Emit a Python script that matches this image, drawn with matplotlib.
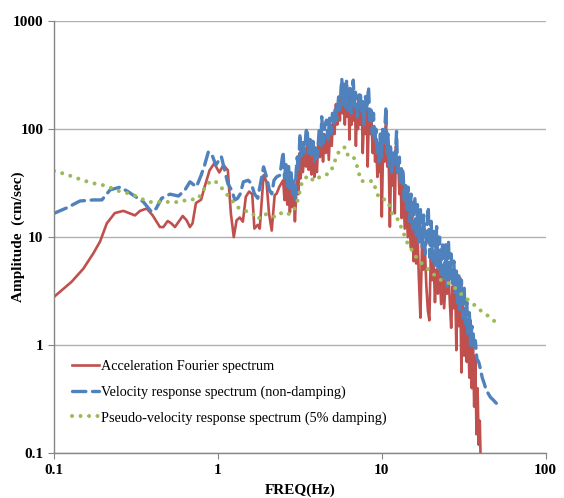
import matplotlib
matplotlib.use("Agg")
import matplotlib.pyplot as plt

plt.rcParams['font.family'] = ['Liberation Serif', 'DejaVu Serif']

# Acceleration Fourier spectrum (red)
acc_f = [0.1, 0.128, 0.151, 0.174, 0.191, 0.21, 0.235, 0.265, 0.29, 0.312, 0.335, 0.368, 0.40,
         0.443, 0.465, 0.494, 0.52, 0.547, 0.61, 0.645, 0.675, 0.70, 0.735, 0.79, 0.83, 0.89,
         0.95, 1.02, 1.08, 1.15, 1.20, 1.25, 1.30, 1.36, 1.42, 1.48, 1.55, 1.62, 1.67, 1.75,
         1.8, 1.9, 1.98, 2.05, 2.13, 2.22, 2.28, 2.37, 2.5,
         2.55, 2.6, 2.65, 2.7, 2.75, 2.8, 2.85, 2.9, 2.95, 3.0, 3.05, 3.1, 3.15, 3.2, 3.25, 3.3,
         3.38, 3.45, 3.5, 3.58, 3.65, 3.72, 3.8, 3.88, 3.95, 4.02, 4.1, 4.2, 4.3, 4.38, 4.45,
         4.55, 4.65, 4.75, 4.85, 4.95, 5.05, 5.15, 5.25, 5.35, 5.45, 5.55, 5.65, 5.75, 5.85,
         5.95, 6.05, 6.15, 6.25, 6.35, 6.45, 6.55, 6.65, 6.75, 6.85, 6.95, 7.05, 7.15, 7.3,
         7.4, 7.55, 7.65, 7.8, 7.95, 8.1, 8.2, 8.35, 8.5, 8.65, 8.8, 8.95, 9.1, 9.25, 9.4,
         9.55, 9.7, 9.85, 10.0, 10.2, 10.4, 10.6, 10.8, 11.0, 11.2, 11.4, 11.6, 11.8, 12.0,
         12.2, 12.4, 12.6, 12.8, 13.0, 13.2, 13.5, 13.8, 14.1, 14.4, 14.7, 15.0, 15.3, 15.6,
         15.9, 16.2, 16.5, 16.8, 17.2, 17.6, 17.9, 18.3, 18.7, 19.1, 19.5, 19.9, 20.3, 20.7,
         21.1, 21.5, 22.0, 22.5, 23.0, 23.5, 24.0, 24.5, 25.0, 25.5, 26.0, 26.5, 27.0, 27.5,
         28.0, 28.5, 29.0, 29.5, 30.0, 30.6, 31.2, 31.8, 32.4, 33.0, 33.6, 34.2, 34.8, 35.4,
         36.0, 36.6, 37.2, 37.8, 38.4, 39.0, 39.6, 40.0]
acc_amp = [2.8, 3.86, 5.1, 7.1, 9.1, 13.4, 16.7, 17.5, 16.6, 15.9, 17.5, 18.4, 15.9,
           12.4, 12.4, 14.1, 13.4, 12.4, 15.7, 14.3, 12.4, 13.4, 20.7, 22.2, 29.2, 41.6,
           48.1, 39.7, 46.5, 41.6, 16.6, 10.0, 14.3, 15.2, 13.9, 23.6, 26.4, 25.0, 12.0, 13.0,
           12.0, 37.4, 32.5, 16.6, 11.5, 24.5, 25.2, 29.2, 33.6,
           22, 38, 20, 30, 17, 28, 19, 26, 14, 24, 40, 25, 60, 35, 70, 40,
           65, 45, 72, 42, 60, 38, 55, 36, 50, 40, 80, 55, 100, 50, 90,
           60, 95, 52, 110, 70, 140, 90, 170, 110, 200, 120, 250, 140, 220,
           110, 230, 130, 210, 80, 200, 110, 240, 120, 180, 70, 170, 100, 190,
           110, 160, 60, 130, 90, 170, 45, 150, 90, 120, 60, 100, 50, 70, 36,
           60, 40, 55, 15.5, 80, 50, 110, 45, 60, 12.5, 50, 30, 60, 16.6,
           70, 40, 50, 25, 40, 15, 30, 12, 24, 10, 20, 8, 18, 6,
           14, 5.7, 12, 4.5, 1.8, 9, 5, 8, 3.5, 2.1, 1.7, 7, 4, 6,
           2.5, 5, 3, 5.5, 2.4, 4.5, 2.2, 4, 3, 4.8, 2.5, 1.45, 3.5, 2.2,
           4, 0.9, 3.8, 1.5, 4.2, 0.56, 2.5, 0.8, 2, 0.7, 1.5, 0.5, 1.7, 0.4,
           1.0, 0.27, 0.8, 0.15, 0.4, 0.12, 0.2, 0.1]

# Velocity response spectrum, non-damping (blue)
vel_f = [0.1, 0.12, 0.144, 0.174, 0.196, 0.22, 0.253, 0.284, 0.319, 0.35, 0.394, 0.42, 0.454,
         0.51, 0.575, 0.63, 0.675, 0.74, 0.79, 0.83, 0.875, 0.93, 0.97, 1.05, 1.1, 1.15, 1.21,
         1.27, 1.32, 1.37, 1.43, 1.53, 1.6, 1.67, 1.75, 1.85, 1.9, 1.98, 2.06, 2.13, 2.2, 2.28,
         2.39, 2.5,
         2.55, 2.6, 2.65, 2.7, 2.75, 2.8, 2.85, 2.9, 2.95, 3.0, 3.05, 3.1, 3.17, 3.22, 3.3,
         3.38, 3.45, 3.5, 3.58, 3.65, 3.72, 3.8, 3.88, 3.95, 4.05, 4.15, 4.25, 4.3, 4.4, 4.5,
         4.6, 4.7, 4.8, 4.9, 5.0, 5.1, 5.2, 5.3, 5.45, 5.55, 5.7, 5.8, 5.9, 6.0, 6.1, 6.2,
         6.3, 6.4, 6.5, 6.6, 6.7, 6.8, 6.9, 7.0, 7.1, 7.25, 7.4, 7.5, 7.65, 7.8, 7.95, 8.1,
         8.3, 8.45, 8.6, 8.75, 8.9, 9.05, 9.2, 9.35, 9.5, 9.65, 9.8, 9.95, 10.1, 10.3, 10.6,
         10.75, 10.9, 11.05, 11.3, 11.5, 11.8, 12.0, 12.3, 12.5, 12.8, 13.0, 13.2, 13.5, 13.7,
         14.0, 14.2, 14.5, 14.8, 15.1, 15.4, 15.9, 16.2, 16.5, 16.8, 17.2, 17.6, 18.0, 18.4,
         19.2, 19.6, 20.0, 20.4, 20.8, 21.2, 21.6, 22.0, 22.5, 23.0, 23.5, 24.0, 24.5, 25.0,
         25.5, 26.0, 26.5, 27.0, 27.5, 28.0, 28.5, 29.0, 29.5, 30.0, 30.6, 31.2, 31.8, 32.4,
         33.0, 33.6, 34.2, 34.8, 35.4, 36.0, 36.6, 37.2, 38.0, 39.0, 40.0, 41.0, 42.0, 43.0,
         44.0, 46.0, 48.0, 50.0]
vel_amp = [16.6, 18.7, 21.6, 22.1, 22.1, 27.4, 29.0, 26.3, 23.3, 21.3, 17.1, 18.4, 22.9,
           25.0, 24.0, 27.4, 32.5, 29.2, 37.4, 46.4, 61.7, 55.6, 46.4, 55.6, 41.6, 31.3, 27.4,
           22.1, 22.9, 25.2, 32.5, 33.6, 31.3, 25.2, 22.9, 36.1, 44.7, 36.1, 27.4, 25.2, 33.6, 36.1,
           37.4, 61.7,
           35, 48, 30, 45, 28, 40, 25, 35, 22, 40, 55, 40, 91, 55, 80,
           60, 95, 102, 60, 85, 55, 82, 50, 70, 55, 100, 70, 130, 75, 110,
           121, 80, 126, 90, 140, 110, 161, 120, 199, 150, 294, 170, 260, 160, 284, 150,
           200, 238, 140, 240, 284, 160, 220, 199, 130, 200, 221, 140, 180, 110, 200, 150,
           246, 120, 150, 90, 140, 75, 100, 60, 73, 50, 90, 55, 100, 70, 161,
           60, 90, 45, 73, 40, 60, 45, 95, 40, 55, 30, 45, 39, 22,
           30, 18, 29, 14, 25, 12, 23.6, 10, 20, 9, 18, 8, 16, 7,
           19, 6.5, 14, 6, 12, 5.5, 12.5, 5, 10, 4.5, 9, 4, 8.5, 3.5,
           9.3, 4, 7, 3.5, 6, 3, 5, 2.5, 4.5, 2, 4.0, 1.8, 3.5, 1.5,
           2.5, 1.2, 2, 1.0, 1.5, 1.4, 0.9, 1.1, 0.75, 0.7, 0.6, 0.5, 0.45, 0.4,
           0.37, 0.33, 0.31, 0.29]

# Pseudo-velocity response spectrum, 5% damping (green)
psv_f = [0.1, 0.1195, 0.134, 0.151, 0.172, 0.196, 0.22, 0.247, 0.28, 0.316, 0.354, 0.40, 0.454,
         0.515, 0.587, 0.66, 0.75, 0.81, 0.85, 0.95, 1.03, 1.12, 1.21, 1.32, 1.46, 1.60, 1.75,
         1.9, 2.12, 2.28, 2.48, 2.75, 2.96, 3.08, 3.17, 3.27, 3.55, 3.86, 4.27, 4.77, 5.07,
         5.26, 5.57, 5.97, 6.2, 6.66, 6.98, 7.2, 7.46, 8.1, 8.8, 9.2, 9.6, 9.99, 10.7, 11.3,
         11.7, 12.7, 13.2, 13.9, 14.5, 15.7, 16.3, 17.8, 19.2, 21.2, 23.5, 26.4, 29.0, 31.8,
         32.9, 36.2, 40.0, 44.4, 49.1]
psv_amp = [41, 38, 35.7, 33.5, 31.6, 30.5, 28.8, 26.8, 25.6, 24.0, 22.1, 20.9, 21.3,
           21.1, 21.1, 22.4, 22.3, 26.3, 31.0, 33.6, 29.8, 25.5, 22.1, 18.9, 17.5, 17.0, 14.6,
           16.5, 15.7, 15.3, 17.1, 16.3, 18.7, 22.4, 27.4, 33, 37.1, 33, 36.9, 38.6, 45.6,
           55, 65, 68, 57.5, 57, 48.4, 40.5, 33.2, 32.5, 33.2, 27.6, 23, 22.6, 22.1, 18.6,
           15.6, 14.4, 12.0, 10.0, 8.4, 7.2, 6.4, 5.6, 5.0, 4.4, 3.9, 3.7, 3.2, 2.8,
           2.7, 2.4, 2.1, 1.87, 1.65]

red = '#C0504D'
blue = '#4F81BD'
green = '#9BBB59'

fig = plt.figure(figsize=(5.64, 4.98), dpi=100)
ax = fig.add_axes([0.0957, 0.0898, 0.8719, 0.868])

ax.plot(acc_f, acc_amp, color=red, lw=1.9, label='Acceleration Fourier spectrum')
ax.plot(vel_f, vel_amp, color=blue, lw=2.4, linestyle=(0, (4, 2)), dash_capstyle='round',
        label='Velocity response spectrum (non-damping)')
ax.plot(psv_f, psv_amp, color=green, lw=2.9, linestyle=(0, (0.01, 2.1)),
        dash_capstyle='round', label='Pseudo-velocity response spectrum (5% damping)')

ax.set_xscale('log')
ax.set_yscale('log')
ax.set_xlim(0.1, 100)
ax.set_ylim(0.1, 1000)
ax.set_xticks([0.1, 1, 10, 100], ['0.1', '1', '10', '100'])
ax.set_yticks([0.1, 1, 10, 100, 1000], ['0.1', '1', '10', '100', '1000'])
ax.minorticks_off()
ax.tick_params(labelsize=11, labelcolor='black', length=4, width=0.8, color='#868686')
for lab in ax.get_xticklabels() + ax.get_yticklabels():
    lab.set_fontweight('bold')

ax.grid(axis='y', color='#B0B0B0', lw=1.0)
ax.set_axisbelow(True)
for s in ['top', 'right']:
    ax.spines[s].set_visible(False)
for s in ['left', 'bottom']:
    ax.spines[s].set_color('#868686')
    ax.spines[s].set_linewidth(1.0)

ax.set_xlabel('FREQ(Hz)', fontsize=11, fontweight='bold')
ax.set_ylabel('Amplitude  (cm/sec)', fontsize=11, fontweight='bold')
ax.xaxis.set_label_coords(0.5, -0.07)
ax.yaxis.set_label_coords(-0.059, 0.5)

ax.legend(loc='upper left', bbox_to_anchor=(0.01, 0.245), frameon=False, fontsize=10.3,
          handlelength=1.9, handletextpad=0.15, labelspacing=0.85)

fig.savefig('out.png', dpi=100)
